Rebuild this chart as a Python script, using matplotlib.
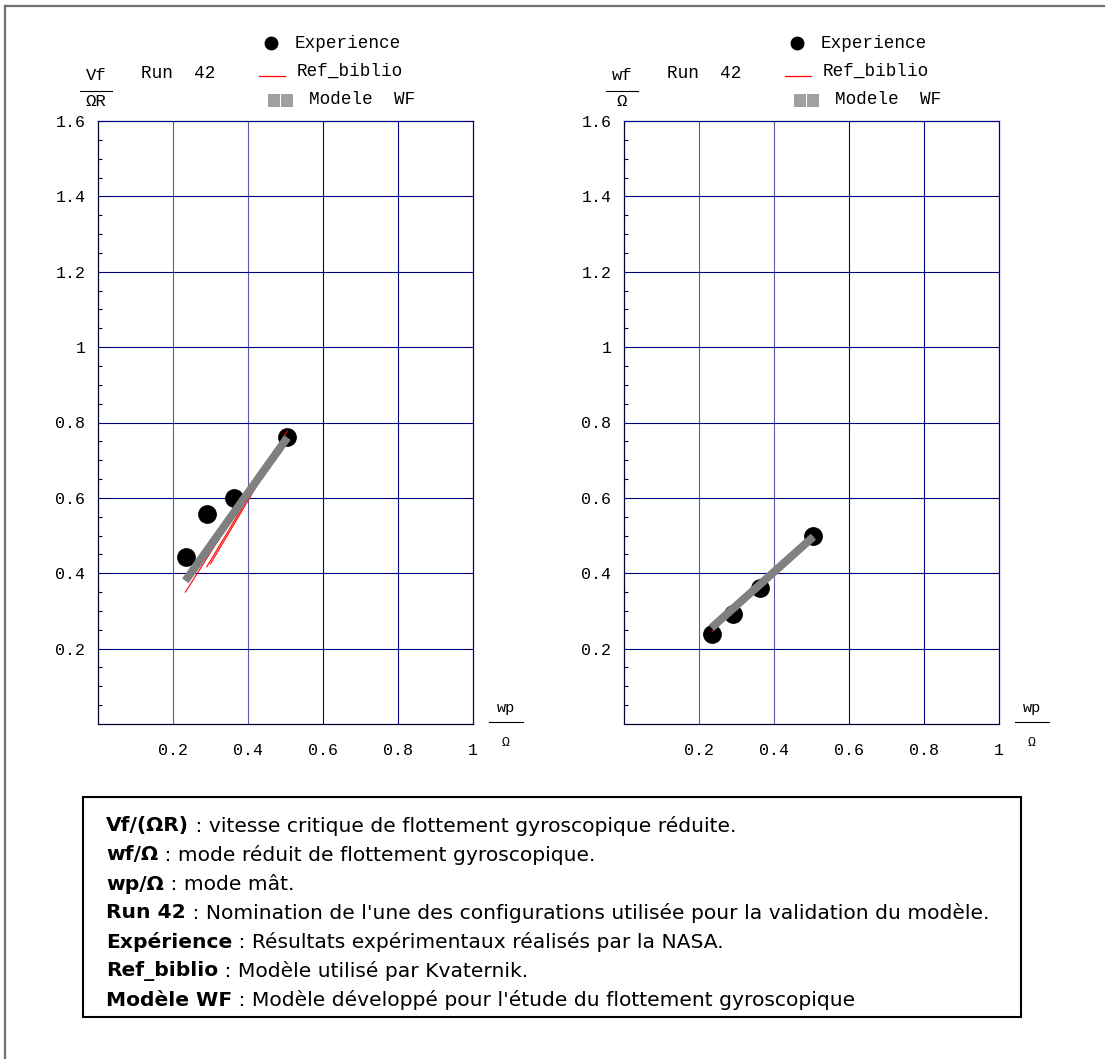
import numpy as np
import matplotlib
matplotlib.use("Agg")
import matplotlib.pyplot as plt
from matplotlib.lines import Line2D
from matplotlib.patches import Rectangle

# data
wp_exp = [0.235, 0.290, 0.362, 0.505]
vf_exp = [0.443, 0.557, 0.600, 0.761]
wf_exp = [0.240, 0.292, 0.361, 0.499]

wp_model = [0.233, 0.505]
vf_model = [0.380, 0.760]
wf_model = [0.255, 0.497]

# Ref_biblio curves (several thin red segments)
vf_ref_x = [[0.233, 0.505], [0.290, 0.424], [0.300, 0.440]]
vf_ref_y = [[0.350, 0.777], [0.417, 0.639], [0.425, 0.660]]
wf_ref_x = [[0.235, 0.505]]
wf_ref_y = [[0.245, 0.497]]

xticks = [0.2, 0.4, 0.6, 0.8, 1.0]
xticklabels = ["0.2", "0.4", "0.6", "0.8", "1"]
yticks = [0.2, 0.4, 0.6, 0.8, 1.0, 1.2, 1.4, 1.6]
yticklabels = ["0.2", "0.4", "0.6", "0.8", "1", "1.2", "1.4", "1.6"]

notes = [
    ("Vf/(\u03a9R)", " : vitesse critique de flottement gyroscopique réduite."),
    ("wf/\u03a9", " : mode réduit de flottement gyroscopique."),
    ("wp/\u03a9", " : mode mât."),
    ("Run 42", " : Nomination de l'une des configurations utilisée pour la validation du modèle."),
    ("Expérience", " : Résultats expérimentaux réalisés par la NASA."),
    ("Ref_biblio", " : Modèle utilisé par Kvaternik."),
    ("Modèle WF", " : Modèle développé pour l'étude du flottement gyroscopique"),
]

W, H = 1105, 1059
fig = plt.figure(figsize=(W / 100, H / 100), dpi=100)

def fx(px):
    return px / W

def fy(py):
    return 1 - py / H

mono = "Liberation Mono"
navy = "#000080"
light_navy = "#5a5aaa"

def make_axes(left_px, ylab, ys, ref_x, ref_y, ym):
    ax = fig.add_axes([fx(left_px), fy(724), fx(375), 603 / H])
    ax.set_xlim(0, 1)
    ax.set_ylim(0, 1.6)
    for x in xticks[:-1]:
        ax.axvline(x, color=light_navy if x < 0.5 else navy, lw=0.8, zorder=1)
    for y in yticks[:-1]:
        ax.axhline(y, color=navy, lw=0.8, zorder=1)
    ax.spines["top"].set_color(navy)
    ax.spines["right"].set_color(navy)
    ax.spines["left"].set_color("#000030")
    ax.spines["bottom"].set_color("#000030")
    for s in ax.spines.values():
        s.set_linewidth(0.9)
    ax.set_xticks(xticks)
    ax.set_xticklabels(xticklabels, fontfamily=mono, fontsize=12)
    ax.set_yticks(yticks)
    ax.set_yticklabels(yticklabels, fontfamily=mono, fontsize=12)
    ax.set_yticks(np.arange(0.05, 1.6, 0.05), minor=True)
    ax.tick_params(axis="x", length=0, pad=14)
    ax.tick_params(axis="y", which="major", length=0, pad=9)
    ax.tick_params(axis="y", which="minor", direction="in", length=3, width=0.8, color="#000030")

    ax.plot(wp_exp, ys, "o", color="black", ms=12.5, zorder=3)
    for rx, ry in zip(ref_x, ref_y):
        ax.plot(rx, ry, color="red", lw=0.8, zorder=4)
    ax.plot(wp_model, ym, color="#808080", lw=5.8, solid_capstyle="butt", zorder=5)

    off = left_px - 98
    # y label as a fraction
    fig.text(fx(96 + off), fy(75), ylab[0], fontfamily=mono, fontsize=12.5, ha="center", va="center")
    fig.add_artist(Line2D([fx(80 + off), fx(112 + off)], [fy(91), fy(91)], color="black", lw=0.8))
    fig.text(fx(96 + off), fy(102), ylab[1], fontfamily=mono, fontsize=12.5, ha="center", va="center")
    fig.text(fx(141 + off), fy(73), "Run  42", fontfamily=mono, fontsize=12.7, ha="left", va="center")

    # x label as a fraction
    fig.text(fx(506 + off), fy(708), "wp", fontfamily=mono, fontsize=11, ha="center", va="center")
    fig.add_artist(Line2D([fx(489 + off), fx(523 + off)], [fy(722), fy(722)], color="black", lw=0.8))
    fig.text(fx(506 + off), fy(743), "\u03a9", fontfamily=mono, fontsize=9.5, ha="center", va="center")

    # legend
    fig.add_artist(Line2D([fx(271 + off)], [fy(43)], marker="o", color="black", ms=9, ls="none"))
    fig.text(fx(295 + off), fy(43), "Experience", fontfamily=mono, fontsize=12.7, ha="left", va="center")
    fig.add_artist(Line2D([fx(259 + off), fx(285 + off)], [fy(76), fy(76)], color="red", lw=0.9))
    fig.text(fx(297 + off), fy(71), "Ref_biblio", fontfamily=mono, fontsize=12.7, ha="left", va="center")
    for sx in (268, 281):
        fig.add_artist(Rectangle((fx(sx + off), fy(107)), fx(12), 13 / H, color="#a0a0a0", lw=0))
    fig.text(fx(309 + off), fy(100), "Modele  WF", fontfamily=mono, fontsize=12.7, ha="left", va="center")
    return ax

make_axes(98, ("Vf", "\u03a9R"), vf_exp, vf_ref_x, vf_ref_y, vf_model)
make_axes(624, ("wf", "\u03a9"), wf_exp, wf_ref_x, wf_ref_y, wf_model)

# page border (top and left only)
fig.add_artist(Line2D([fx(5), fx(1105)], [fy(6), fy(6)], color="#707070", lw=1.6))
fig.add_artist(Line2D([fx(5), fx(5)], [fy(6), fy(1059)], color="#707070", lw=1.6))

# notes box
fig.add_artist(Rectangle((fx(83), fy(1017)), fx(1021 - 83), (1017 - 797) / H,
                         fill=False, edgecolor="black", lw=1.5))
for i, (head, rest) in enumerate(notes):
    t = fig.text(fx(106), fy(826 + i * 29), head, fontfamily="DejaVu Sans", fontweight="bold",
                 fontsize=14.6, ha="left", va="center")
    plt.annotate(rest, xy=(1, 0.5), xycoords=t, ha="left", va="center",
                 fontfamily="DejaVu Sans", fontsize=14.6, annotation_clip=False)

fig.savefig("out.png", dpi=100)
